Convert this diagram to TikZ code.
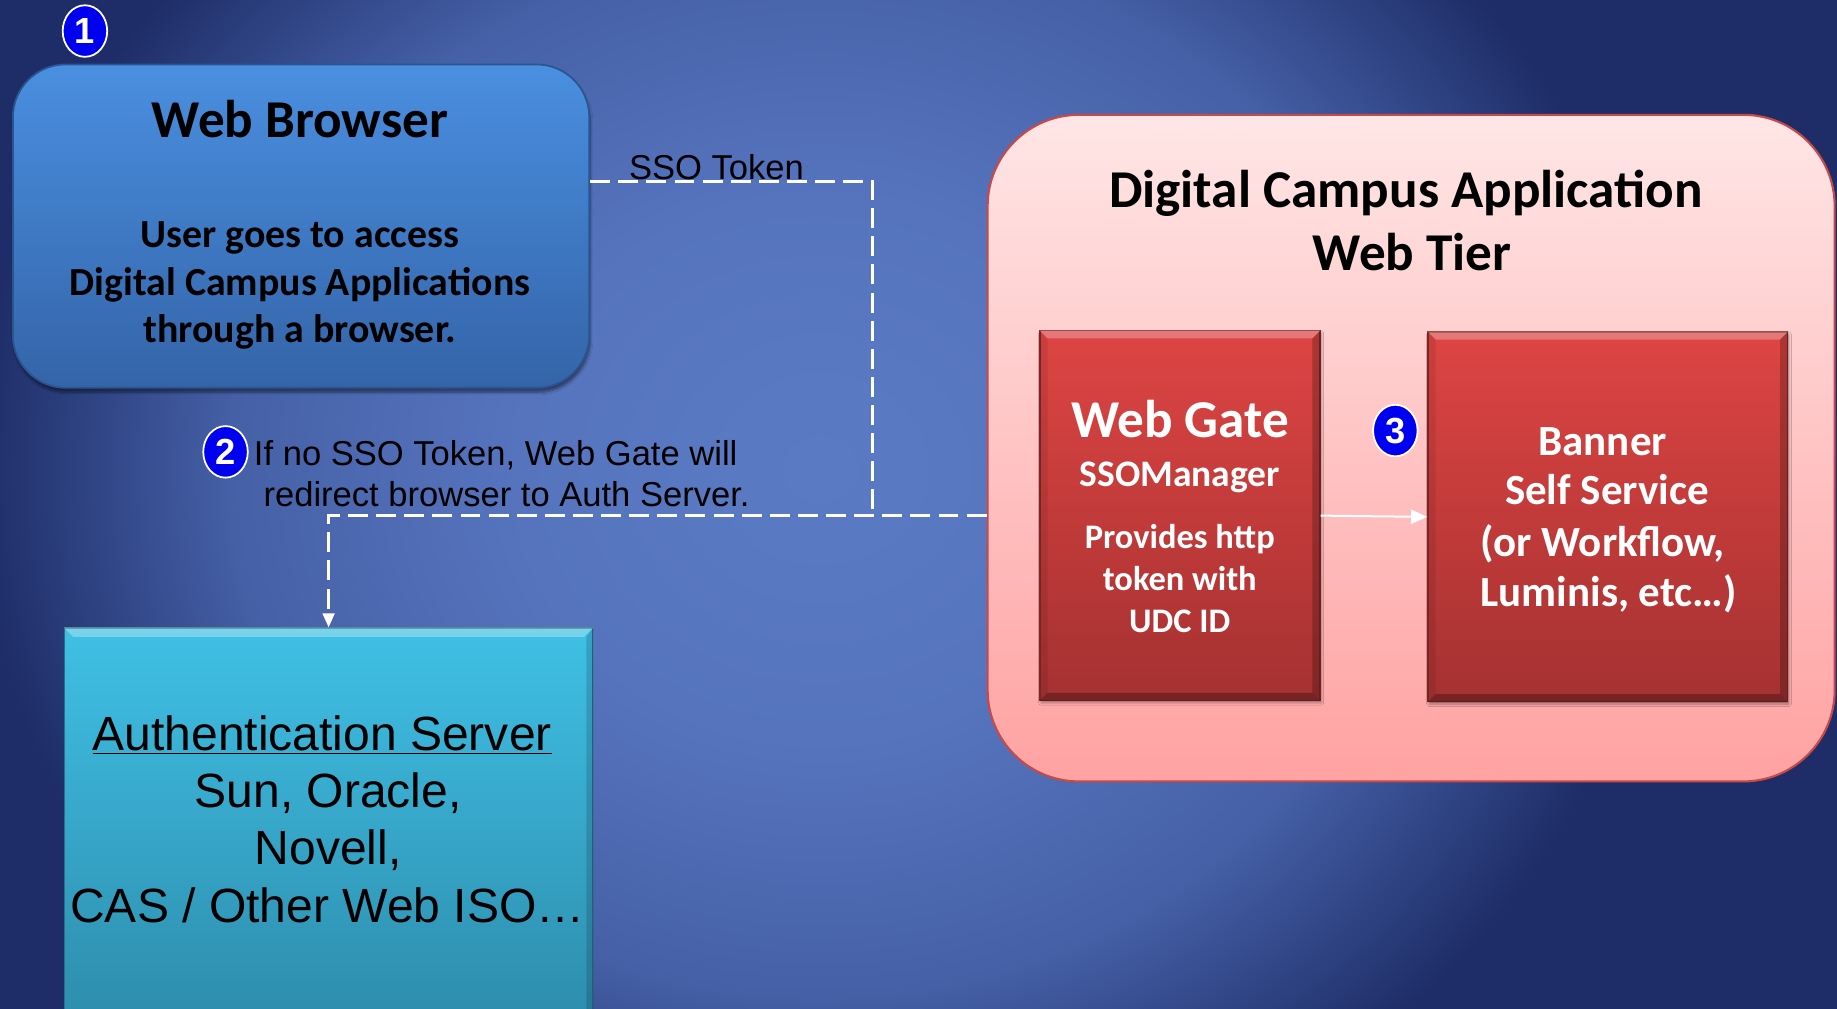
\documentclass[tikz,border=0pt]{standalone}
\usepackage{fontspec}
\setmainfont{Liberation Sans}
\newfontfamily\fCarl{Carlito}
\newfontfamily\fArial{Liberation Sans}
\usetikzlibrary{shapes.geometric,arrows.meta,shadows.blur,calc}
\definecolor{bgin}{HTML}{5A7BC4}
\definecolor{bgmidA}{HTML}{5674BE}
\definecolor{bgmidB}{HTML}{4560A6}
\definecolor{bgout}{HTML}{1E2D68}
\definecolor{brtop}{HTML}{4A8FE0}
\definecolor{brbot}{HTML}{3464A8}
\definecolor{brline}{HTML}{2A5590}
\definecolor{autop}{HTML}{3FC0E5}
\definecolor{aubot}{HTML}{2E8DAD}
\definecolor{dctop}{HTML}{FFE6E6}
\definecolor{dcbot}{HTML}{FFA2A2}
\definecolor{dcline}{HTML}{C84A48}
\definecolor{rdtop}{HTML}{DD4543}
\definecolor{rdbot}{HTML}{A53131}
\definecolor{numblue}{HTML}{0000F0}
\pgfdeclareradialshading{bgrad}{\pgfpoint{0bp}{0bp}}{color(0bp)=(bgin); color(7.2bp)=(bgmidA); color(14bp)=(bgmidB); color(20bp)=(bgout); color(50bp)=(bgout)}
\newcommand\bevelon[2]{%
  \fill[white,opacity=.28] (#1.north west) -- (#1.north east) -- ([xshift=-#2,yshift=-#2]#1.north east) -- ([xshift=#2,yshift=-#2]#1.north west) -- cycle;
  \fill[black,opacity=.22] (#1.north east) -- (#1.south east) -- ([xshift=-#2,yshift=#2]#1.south east) -- ([xshift=-#2,yshift=-#2]#1.north east) -- cycle;
  \fill[black,opacity=.28] (#1.south east) -- (#1.south west) -- ([xshift=#2,yshift=#2]#1.south west) -- ([xshift=-#2,yshift=#2]#1.south east) -- cycle;
  \fill[black,opacity=.08] (#1.south west) -- (#1.north west) -- ([xshift=#2,yshift=-#2]#1.north west) -- ([xshift=#2,yshift=#2]#1.south west) -- cycle;}
\tikzset{
  txt/.style={anchor=base, inner sep=0pt},
  numcirc/.style={ellipse, draw=white, line width=1.5pt, fill=numblue, minimum width=38pt, minimum height=44pt, inner sep=0pt, text=white, font=\fArial\bfseries\fontsize{31}{31}\selectfont},
  dashline/.style={white, line width=2.3pt, dash pattern=on 17pt off 7pt},
  browserbox/.style={rectangle, rounded corners=45pt, draw=brline, line width=1.5pt, top color=brtop, bottom color=brbot, inner sep=0pt, blur shadow={shadow xshift=1pt, shadow yshift=-4pt, shadow opacity=45, shadow blur steps=6}},
  authbox/.style={rectangle, draw=aubot!80!black, line width=1pt, top color=autop, bottom color=aubot, inner sep=0pt},
  dcbox/.style={rectangle, rounded corners=78pt, draw=dcline, line width=1.8pt, top color=dctop, bottom color=dcbot, inner sep=0pt},
  redbox/.style={rectangle, draw=rdbot!80!black, line width=1pt, top color=rdtop, bottom color=rdbot, inner sep=0pt, blur shadow={shadow xshift=1pt, shadow yshift=-2pt, shadow opacity=35, shadow blur steps=4}},
  titlefont/.style={font=\fCarl\bfseries\fontsize{45.4}{52}\selectfont},
  midbold/.style={font=\fCarl\bfseries\fontsize{34}{40}\selectfont},
  wgsmall/.style={text=white, font=\fCarl\bfseries\fontsize{29.4}{34}\selectfont},
  bnfont/.style={text=white, font=\fCarl\bfseries\fontsize{36.7}{42}\selectfont},
  plain/.style={font=\fArial\fontsize{29.5}{35}\selectfont},
  authtxt/.style={font=\fArial\fontsize{41}{48}\selectfont}
}
\begin{document}
\begin{tikzpicture}[x=1pt,y=-1pt]
\useasboundingbox (0,0) rectangle (1568,860.4);
\begin{scope}
\clip (0,0) rectangle (1568,860.4);
\shade[shading=bgrad] (-200,-404) rectangle (1600,1204);
\end{scope}

% Web browser
\node[browserbox, minimum width=492pt, minimum height=276pt] (browser) at (257,193) {};
\node[txt, titlefont] (brtitle) at (256,117.2) {Web Browser};
\node[txt, midbold] (brl1) at (256,211) {User goes to access};
\node[txt, midbold] (brl2) at (256,251.8) {Digital Campus Applications};
\node[txt, midbold] (brl3) at (256,292.5) {through a browser.};
\node[numcirc] (n1) at (72.5,26.5) {1};

% Digital campus box
\node[dcbox, minimum width=723pt, minimum height=569pt] (dc) at (1204.5,382.5) {};
\node[txt, titlefont] (dct1) at (1200,176.7) {Digital Campus Application};
\node[txt, titlefont] (dct2) at (1205.4,231.3) {Web Tier};

\node[redbox, minimum width=239pt, minimum height=315.4pt] (wg) at (1007.2,440.1) {};
\bevelon{wg}{7pt}
\node[txt, titlefont, text=white] (wg1) at (1007.4,373) {Web Gate};
\node[txt, text=white, font=\fCarl\bfseries\fontsize{32}{38}\selectfont] (wg2) at (1007,415.3) {SSOManager};
\node[txt, wgsmall] (wg3) at (1007,468.3) {Provides http};
\node[txt, wgsmall] (wg4) at (1007,504.4) {token with};
\node[txt, wgsmall] (wg5) at (1007,540) {UDC ID};

\node[redbox, minimum width=307pt, minimum height=315.6pt] (bn) at (1372.4,441.2) {};
\bevelon{bn}{7pt}
\node[txt, bnfont] (bn1) at (1368,388.4) {Banner};
\node[txt, bnfont] (bn2) at (1371.7,431) {Self Service};
\node[txt, bnfont] (bn3) at (1368,474.6) {(or Workflow,};
\node[txt, bnfont] (bn4) at (1373,517.8) {Luminis, etc…)};
\node[numcirc] (n3) at (1191,367.5) {3};

\draw[white, line width=1.7pt, -{Triangle[length=14pt,width=12pt]}] (wg.east) -- (bn.west);

% Authentication server
\node[authbox, minimum width=451pt, minimum height=334pt] (auth) at (280.5,703) {};
\fill[white,opacity=.3] (auth.north west) -- (auth.north east) -- ([xshift=-8pt,yshift=-8pt]auth.north east) -- ([xshift=8pt,yshift=-8pt]auth.north west) -- cycle;
\fill[black,opacity=.15] (auth.north east) -- (auth.south east) -- ([xshift=-6pt]auth.south east) -- ([xshift=-6pt,yshift=-8pt]auth.north east) -- cycle;
\node[txt, authtxt] (au1) at (275,640.9) {\underline{Authentication Server}};
\node[txt, authtxt] (au2) at (280,689.5) {Sun, Oracle,};
\node[txt, authtxt] (au3) at (280,738.3) {Novell,};
\node[txt, authtxt] (au4) at (279.5,787.4) {CAS / Other Web ISO…};

% connectors
\coordinate (j1) at (745,155);
\coordinate (j2) at (745,440);
\coordinate (j3) at (280.5,440);
\draw[dashline] (browser.east |- j1) -- (j1) -- (j2);
\draw[dashline, -{Triangle[length=12pt,width=10pt]}] (dc.west |- j2) -- (j3) -- (auth.north);

\node[txt, plain] (sso) at (611.5,152.8) {SSO Token};
\node[numcirc] (n2) at (192.5,385.7) {2};
\node[txt, plain, anchor=base west] (st1) at (216.6,397) {If no SSO Token, Web Gate will};
\node[txt, plain, anchor=base west] (st2) at (224.8,432.4) {redirect browser to Auth Server.};
\end{tikzpicture}
\end{document}
